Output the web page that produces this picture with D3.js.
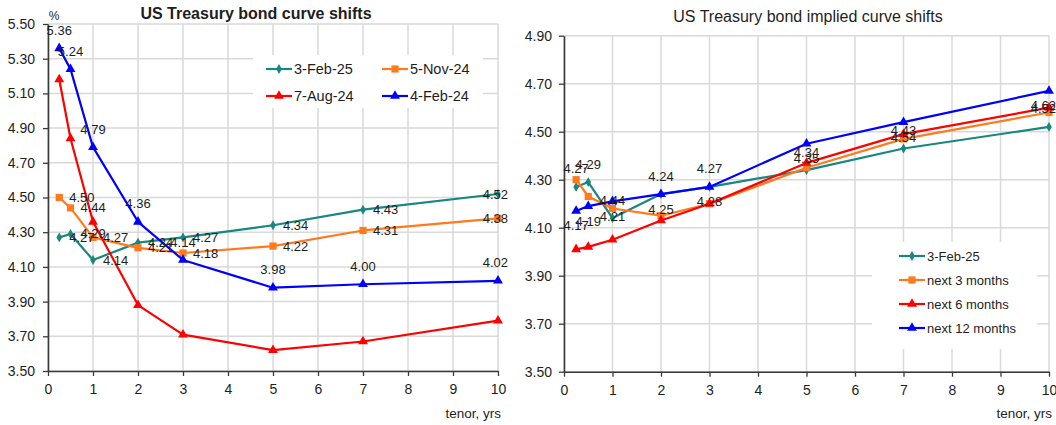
<!DOCTYPE html>
<html>
<head>
<meta charset="utf-8">
<script src="https://cdn.jsdelivr.net/npm/d3@7"></script>
<style>
  body { margin: 0; background: #fff; }
  svg { display: block; font-family: "Liberation Sans", Arial, sans-serif; }
</style>
</head>
<body>
<svg id="chart" width="1056" height="425"></svg>
<script>
// ---- data ----
const tenors = [0.25, 0.5, 1, 2, 3, 5, 7, 10];
const xTickValues = [0, 1, 2, 3, 4, 5, 6, 7, 8, 9, 10];
const yTicksLeft = [3.5, 3.7, 3.9, 4.1, 4.3, 4.5, 4.7, 4.9, 5.1, 5.3, 5.5];
const yTicksRight = [3.5, 3.7, 3.9, 4.1, 4.3, 4.5, 4.7, 4.9];

// historical curves (left panel)
const leftNames = ["3-Feb-25", "5-Nov-24", "7-Aug-24", "4-Feb-24"];
const curveFeb25 = [4.27, 4.29, 4.14, 4.24, 4.27, 4.34, 4.43, 4.52];
const curveNov24 = [4.50, 4.44, 4.27, 4.21, 4.18, 4.22, 4.31, 4.38];
const curveAug24 = [5.18, 4.84, 4.36, 3.88, 3.71, 3.62, 3.67, 3.79];
const curveFeb24 = [5.36, 5.24, 4.79, 4.36, 4.14, 3.98, 4.00, 4.02];

// implied forward curves (right panel)
const rightNames = ["3-Feb-25", "next 3 months", "next 6 months", "next 12 months"];
const implied3m = [4.30, 4.23, 4.18, 4.15, 4.20, 4.35, 4.47, 4.58];
const implied6m = [4.01, 4.02, 4.05, 4.13, 4.20, 4.37, 4.49, 4.60];
const implied12m = [4.17, 4.19, 4.21, 4.24, 4.27, 4.45, 4.54, 4.67];

// value tags printed on the right panel (above the spot curve, below the 12m curve)
const tagsUpper = ["4.27", "4.29", "4.44", "4.24", "4.27", "4.34", "4.43", "4.52"];
const tagsLower = ["4.17", "4.19", "4.21", "4.25", "4.28", "4.35", "4.54", "4.62"];

// ---- styling ----
const COLORS = { teal: "#17877f", orange: "#ff7a1c", red: "#ff0000", blue: "#0000ff" };
const SYMBOLS = {
  diamond: d3.symbol().type(d3.symbolDiamond).size(28),
  square: d3.symbol().type(d3.symbolSquare).size(52),
  triangle: d3.symbol().type(d3.symbolTriangle).size(42)
};
const TEXT = "#1e1e1e";
const GRID = "#d9d9d9";
const AXIS = "#3a3a3a";

const svg = d3.select("#chart");

function drawPanel(cfg) {
  const x = d3.scaleLinear().domain([0, 10]).range([cfg.left, cfg.right]);
  const y = d3.scaleLinear().domain([cfg.yTicks[0], cfg.yTicks[cfg.yTicks.length - 1]])
              .range([cfg.bottom, cfg.top]);
  const g = svg.append("g");

  // grid
  g.append("g").selectAll("line").data(cfg.yTicks).join("line")
    .attr("x1", cfg.left).attr("x2", cfg.right)
    .attr("y1", d => y(d)).attr("y2", d => y(d))
    .attr("stroke", GRID).attr("stroke-width", 1.5);
  g.append("g").selectAll("line").data(xTickValues).join("line")
    .attr("x1", d => x(d)).attr("x2", d => x(d))
    .attr("y1", cfg.top).attr("y2", cfg.bottom)
    .attr("stroke", GRID).attr("stroke-width", 1.5);

  // legend box (white panel hiding the grid behind it)
  const lg = cfg.legend;
  g.append("rect").attr("x", lg.x).attr("y", lg.y).attr("width", lg.w).attr("height", lg.h)
    .attr("fill", "#fff");

  // axes
  const yAxis = d3.axisLeft(y).tickValues(cfg.yTicks).tickFormat(d3.format(".2f"))
    .tickSize(5).tickPadding(cfg.yPad).tickSizeOuter(0);
  const xAxis = d3.axisBottom(x).tickValues(xTickValues).tickFormat(d3.format("d"))
    .tickSize(5).tickPadding(8).tickSizeOuter(0);
  const ya = g.append("g").attr("transform", `translate(${cfg.left},0)`).call(yAxis);
  const xa = g.append("g").attr("transform", `translate(0,${cfg.bottom})`).call(xAxis);
  [ya, xa].forEach(a => {
    a.select(".domain").attr("stroke", AXIS).attr("stroke-width", 1.6);
    a.selectAll(".tick line").attr("stroke", AXIS).attr("stroke-width", 1.3);
    a.selectAll("text").attr("fill", TEXT).attr("font-size", 14)
      .attr("font-family", "Liberation Sans, Arial, sans-serif");
  });

  // titles
  g.append("text").attr("x", cfg.titleX).attr("y", cfg.titleY).attr("text-anchor", "middle")
    .attr("font-size", 16).attr("font-weight", cfg.titleWeight).attr("fill", TEXT)
    .text(cfg.title);
  g.append("text").attr("x", cfg.right + 3).attr("y", 418).attr("text-anchor", "end")
    .attr("font-size", 13.5).attr("fill", TEXT).text("tenor, yrs");

  // series
  const line = d3.line().x(d => x(d[0])).y(d => y(d[1]));
  cfg.series.forEach(s => {
    const pts = tenors.map((t, i) => [t, s.values[i]]);
    g.append("path").datum(pts).attr("d", line)
      .attr("fill", "none").attr("stroke", s.color).attr("stroke-width", 2.2)
      .attr("stroke-linejoin", "round");
    g.append("g").selectAll("path").data(pts).join("path")
      .attr("d", SYMBOLS[s.symbol])
      .attr("transform", d => `translate(${x(d[0])},${y(d[1])})`)
      .attr("fill", s.color);
  });

  // data tags
  const tagLayer = g.append("g");
  cfg.tags.forEach(tg => {
    tenors.forEach((t, i) => {
      const px = x(t), py = y(tg.anchor[i]);
      const txt = tagLayer.append("text").attr("font-size", 13).attr("fill", TEXT)
        .attr("dy", "0.35em").text(tg.texts[i]);
      let tx, ty;
      if (tg.pos === "right") { tx = px + 10; ty = py; txt.attr("text-anchor", "start"); }
      else if (tg.pos === "above") { tx = px; ty = py - 18; txt.attr("text-anchor", "middle"); }
      else { tx = px; ty = py + 15; txt.attr("text-anchor", "middle"); }
      txt.attr("x", tx).attr("y", ty);
      // keep tags inside the chart area
      const bb = txt.node().getBBox();
      if (bb.x + bb.width > cfg.areaRight) {
        txt.attr("x", tx - (bb.x + bb.width - cfg.areaRight));
      }
    });
  });

  // legend entries
  cfg.series.forEach((s, i) => {
    const pos = lg.items[i];
    const e = g.append("g").attr("transform", `translate(${pos[0]},${pos[1]})`);
    e.append("line").attr("x1", 0).attr("x2", 26).attr("stroke", s.color).attr("stroke-width", 2.2);
    e.append("path").attr("d", SYMBOLS[s.symbol]).attr("transform", "translate(13,0)")
      .attr("fill", s.color);
    e.append("text").attr("x", 28).attr("dy", "0.35em").attr("font-size", lg.fontSize)
      .attr("fill", TEXT).text(s.name);
  });

  return g;
}

// left panel
const leftPanel = drawPanel({
  left: 48, right: 498, top: 24, bottom: 371, areaRight: 508, yPad: 8,
  yTicks: yTicksLeft,
  title: "US Treasury bond curve shifts", titleX: 256, titleY: 19, titleWeight: "bold",
  series: [
    { name: leftNames[0], values: curveFeb25, color: COLORS.teal, symbol: "diamond" },
    { name: leftNames[1], values: curveNov24, color: COLORS.orange, symbol: "square" },
    { name: leftNames[2], values: curveAug24, color: COLORS.red, symbol: "triangle" },
    { name: leftNames[3], values: curveFeb24, color: COLORS.blue, symbol: "triangle" }
  ],
  tags: [
    { anchor: curveFeb25, texts: curveFeb25.map(d3.format(".2f")), pos: "right" },
    { anchor: curveNov24, texts: curveNov24.map(d3.format(".2f")), pos: "right" },
    { anchor: curveFeb24, texts: curveFeb24.map(d3.format(".2f")), pos: "above" }
  ],
  legend: { x: 253, y: 55, w: 230, h: 53, fontSize: 14.5,
            items: [[266, 69], [382, 69], [266, 96], [382, 96]] }
});
// unit marker on the left value axis
leftPanel.append("text").attr("x", 54).attr("y", 20).attr("text-anchor", "middle")
  .attr("font-size", 12).attr("fill", TEXT).text("%");

// right panel
drawPanel({
  left: 564, right: 1049, top: 35.7, bottom: 371.7, areaRight: 1056, yPad: 7,
  yTicks: yTicksRight,
  title: "US Treasury bond implied curve shifts", titleX: 808, titleY: 22, titleWeight: "normal",
  series: [
    { name: rightNames[0], values: curveFeb25, color: COLORS.teal, symbol: "diamond" },
    { name: rightNames[1], values: implied3m, color: COLORS.orange, symbol: "square" },
    { name: rightNames[2], values: implied6m, color: COLORS.red, symbol: "triangle" },
    { name: rightNames[3], values: implied12m, color: COLORS.blue, symbol: "triangle" }
  ],
  tags: [
    { anchor: curveFeb25, texts: tagsUpper, pos: "above" },
    { anchor: implied12m, texts: tagsLower, pos: "below" }
  ],
  legend: { x: 872, y: 242, w: 165, h: 107, fontSize: 13,
            items: [[899, 256], [899, 280], [899, 304], [899, 328]] }
});
</script>
</body>
</html>
